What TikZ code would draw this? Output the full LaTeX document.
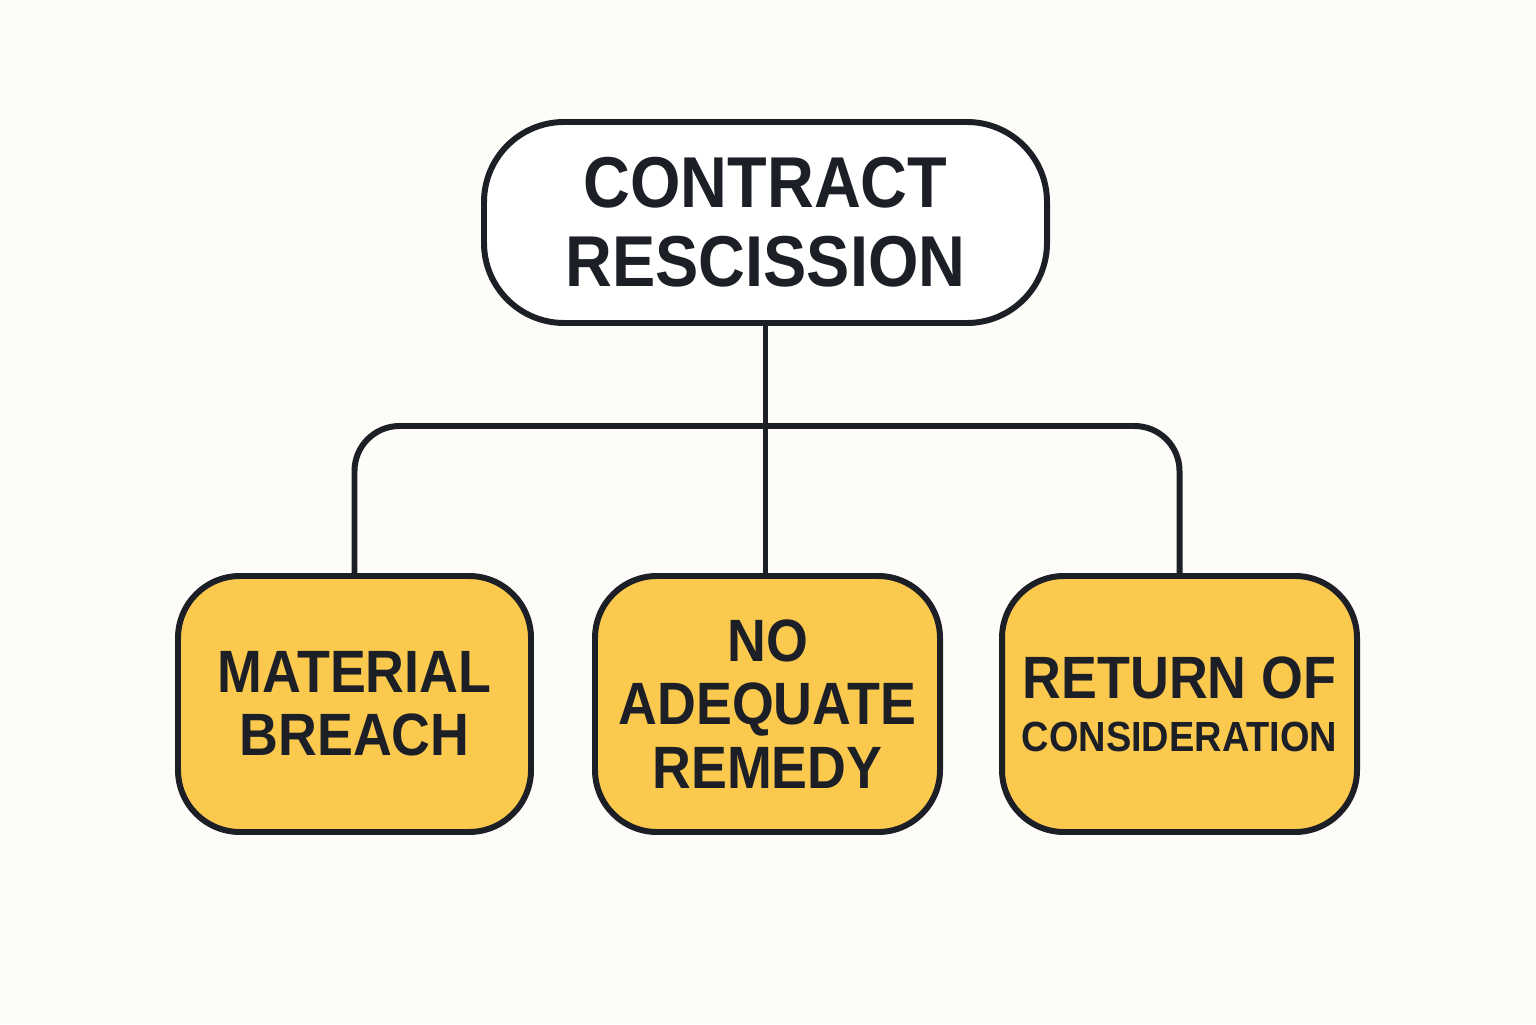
\documentclass[tikz,border=0pt]{standalone}
\usepackage{fontspec}
\setmainfont{Liberation Sans}[FakeStretch=0.9]
\usetikzlibrary{positioning}
\definecolor{paper}{HTML}{FDFCF8}
\definecolor{ink}{HTML}{1C1F26}
\definecolor{gold}{HTML}{FBC94E}
\tikzset{
  topbox/.style={draw=ink, line width=1.7pt, fill=white, rounded corners=0.8cm,
    minimum width=5.63cm, minimum height=2.01cm, align=center, text=ink,
    font=\fontsize{20.5}{22.5}\selectfont\bfseries},
  reasonbox/.style={draw=ink, line width=1.7pt, fill=gold, rounded corners=0.62cm,
    minimum height=2.56cm, align=center, text=ink,
    font=\fontsize{17}{18}\selectfont\bfseries},
  link/.style={draw=ink, line width=1.7pt}
}
\begin{document}
\begin{tikzpicture}
    % Background
    \fill[paper] (0,0) rectangle (15.36,10.24);
    \useasboundingbox (0,0) rectangle (15.36,10.24);

    % Boxes
    \node[topbox] (rescission) at (7.655,8.015) {CONTRACT\\RESCISSION};
    \node[reasonbox, minimum width=3.53cm] (breach) at (3.545,3.20) {MATERIAL\\BREACH};
    \node[reasonbox, minimum width=3.45cm] (remedy) at (7.675,3.20) {NO\\ADEQUATE\\REMEDY};
    \node[reasonbox, minimum width=3.55cm] (consideration) at (11.795,3.20)
        {RETURN OF\\[-3pt]{\fontsize{12}{18}\selectfont CONSIDERATION}};

    % Links
    \coordinate (bar) at (7.655,5.98);
    \draw[link] (rescission.south) -- (rescission.south |- remedy.north);
    \draw[link, rounded corners=0.45cm] (breach.north) -- (breach.north |- bar)
        -- (consideration.north |- bar) -- (consideration.north);

\end{tikzpicture}
\end{document}
